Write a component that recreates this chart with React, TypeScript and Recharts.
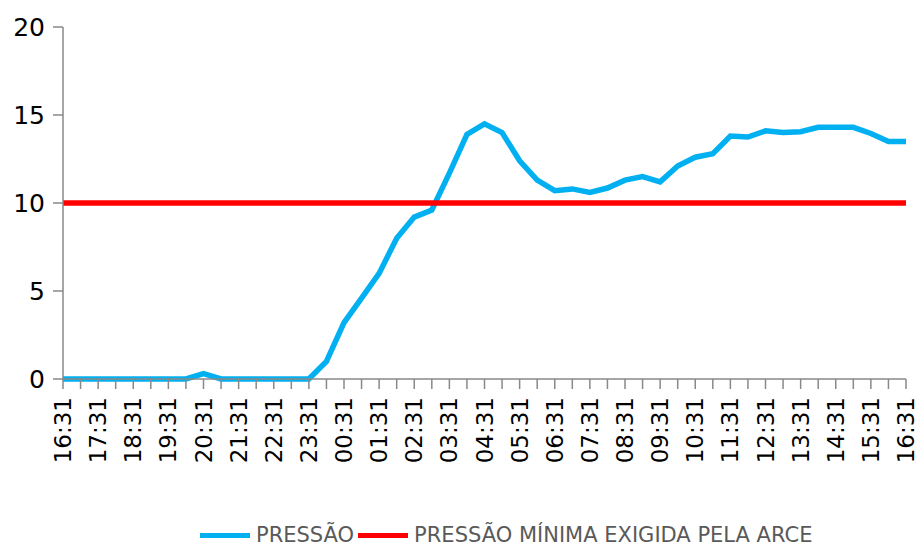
import React from "react";
import { LineChart, Line, XAxis, YAxis, Legend } from "recharts";

const times = [
    "16:31", "17:01", "17:31", "18:01", "18:31", "19:01", "19:31", "20:01", "20:31", "21:01",
    "21:31", "22:01", "22:31", "23:01", "23:31", "00:01", "00:31", "01:01", "01:31", "02:01",
    "02:31", "03:01", "03:31", "04:01", "04:31", "05:01", "05:31", "06:01", "06:31", "07:01",
    "07:31", "08:01", "08:31", "09:01", "09:31", "10:01", "10:31", "11:01", "11:31", "12:01",
    "12:31", "13:01", "13:31", "14:01", "14:31", "15:01", "15:31", "16:01", "16:31",
];

const pressao = [
    0, 0, 0, 0, 0, 0, 0, 0, 0.3, 0,
    0, 0, 0, 0, 0, 1.0, 3.2, 4.6, 6.0, 8.0,
    9.2, 9.6, 11.7, 13.9, 14.5, 14.0, 12.4, 11.3, 10.7, 10.8,
    10.6, 10.85, 11.3, 11.5, 11.2, 12.1, 12.6, 12.8, 13.8, 13.75,
    14.1, 14.0, 14.05, 14.3, 14.3, 14.3, 13.95, 13.5, 13.5,
];

const pressaoMinima = [
    10, 10, 10, 10, 10, 10, 10, 10, 10, 10,
    10, 10, 10, 10, 10, 10, 10, 10, 10, 10,
    10, 10, 10, 10, 10, 10, 10, 10, 10, 10,
    10, 10, 10, 10, 10, 10, 10, 10, 10, 10,
    10, 10, 10, 10, 10, 10, 10, 10, 10,
];

const yTicks = [0, 5, 10, 15, 20];

const data = times.map((t, i) => ({ time: t, pressao: pressao[i], minima: pressaoMinima[i] }));

const axisColor = "#898989";

const TimeTick = (props: any) => {
    const { x, y, payload, index } = props;
    if (index % 2 !== 0) return <g />;
    return (
        <text
            x={x}
            y={y}
            transform={`rotate(-90, ${x}, ${y})`}
            textAnchor="end"
            dominantBaseline="central"
            fontSize={23}
            fill="#000"
            fontFamily="DejaVu Sans"
        >
            {payload.value}
        </text>
    );
};

const LegendBox = () => (
    <div
        style={{
            height: 26,
            display: "flex",
            alignItems: "center",
            marginLeft: 200,
            fontFamily: "DejaVu Sans",
            fontSize: 21,
            color: "#595959",
            lineHeight: "26px",
            whiteSpace: "nowrap",
        }}
    >
        <span style={{ display: "inline-block", width: 50, height: 5, background: "#00B0F0", marginRight: 6 }} />
        <span>PRESSÃO</span>
        <span style={{ display: "inline-block", width: 50, height: 5, background: "#FF0000", margin: "0 6px 0 4px" }} />
        <span>PRESSÃO MÍNIMA EXIGIDA PELA ARCE</span>
    </div>
);

export default function App() {
    return (
        <div style={{ position: "absolute", left: 0, top: 0, width: 919, height: 548, background: "#fff" }}>
            <LineChart width={919} height={548} data={data} margin={{ top: 27, right: 13, bottom: 0, left: 0 }}>
                <XAxis
                    dataKey="time"
                    interval={0}
                    height={143}
                    tick={<TimeTick />}
                    tickSize={10}
                    tickMargin={8}
                    stroke={axisColor}
                    strokeWidth={1.5}
                />
                <YAxis
                    domain={[0, 20]}
                    ticks={yTicks}
                    width={63}
                    tickSize={10}
                    tickMargin={8}
                    stroke={axisColor}
                    strokeWidth={1.5}
                    tick={{ fill: "#000", fontSize: 25, fontFamily: "DejaVu Sans" }}
                />
                <Legend verticalAlign="bottom" align="left" content={<LegendBox />} />
                <Line dataKey="pressao" stroke="#00B0F0" strokeWidth={5.5} dot={false} isAnimationActive={false} />
                <Line dataKey="minima" stroke="#FF0000" strokeWidth={5.5} dot={false} isAnimationActive={false} />
            </LineChart>
        </div>
    );
}
